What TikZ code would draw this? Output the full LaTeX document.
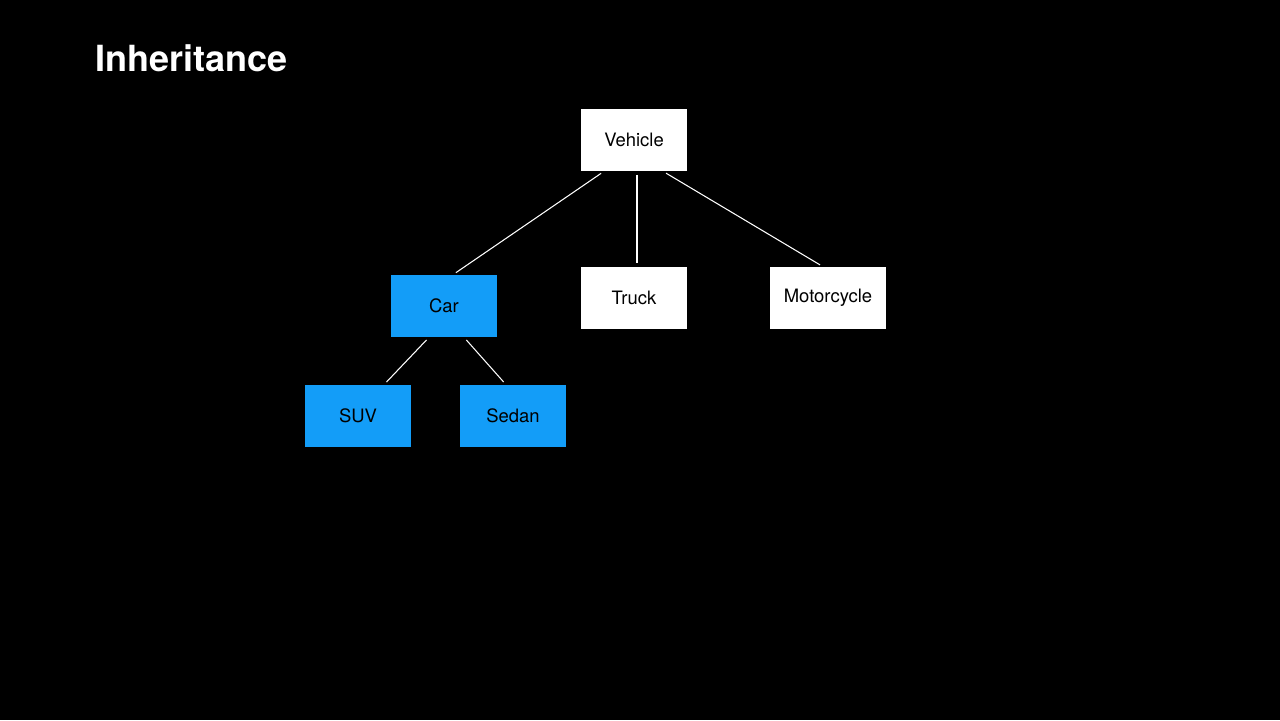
\documentclass[tikz,border=0pt]{standalone}
\usepackage{fontspec}
\setmainfont{TeX Gyre Heros}
\usetikzlibrary{positioning}
\definecolor{subblue}{HTML}{139DF8}

\begin{document}
\begin{tikzpicture}[x=0.02cm,y=-0.02cm,inner sep=0pt]
      % Styles
      \tikzset{cls/.style={draw=none,fill=white,minimum width=2.12cm,minimum height=1.24cm,font=\fontsize{10.5}{12}\selectfont},
               sub/.style={cls,fill=subblue},
               link/.style={white,line width=0.6pt,shorten <=2pt,shorten >=2pt}}

      % background
      \fill[black] (0,0) rectangle (1280,720);
      \node[anchor=base west,text=white,font=\bfseries\fontsize{20.5}{24}\selectfont] (title) at (95,71) {Inheritance};

      % class boxes
      \node[cls] (vehicle) at (634,140) {Vehicle};
      \node[sub] (car) at (444,306) {Car};
      \node[cls] (truck) at (634,298) {Truck};
      \node[cls,minimum width=2.32cm] (moto) at (828,298) {Motorcycle};
      \node[sub] (suv) at (358,416) {SUV};
      \node[sub] (sedan) at (513,416) {Sedan};

      % inheritance links
      \draw[link] ([xshift=-0.6cm]vehicle.south) -- ([xshift=0.18cm]car.north);
      \draw[link] ([xshift=0.06cm]vehicle.south) -- ([xshift=0.06cm]truck.north);
      \draw[link] ([xshift=0.58cm]vehicle.south) -- ([xshift=-0.1cm]moto.north);
      \draw[link] ([xshift=-0.3cm]car.south) -- ([xshift=0.52cm]suv.north);
      \draw[link] ([xshift=0.4cm]car.south) -- ([xshift=-0.14cm]sedan.north);
\end{tikzpicture}
\end{document}
